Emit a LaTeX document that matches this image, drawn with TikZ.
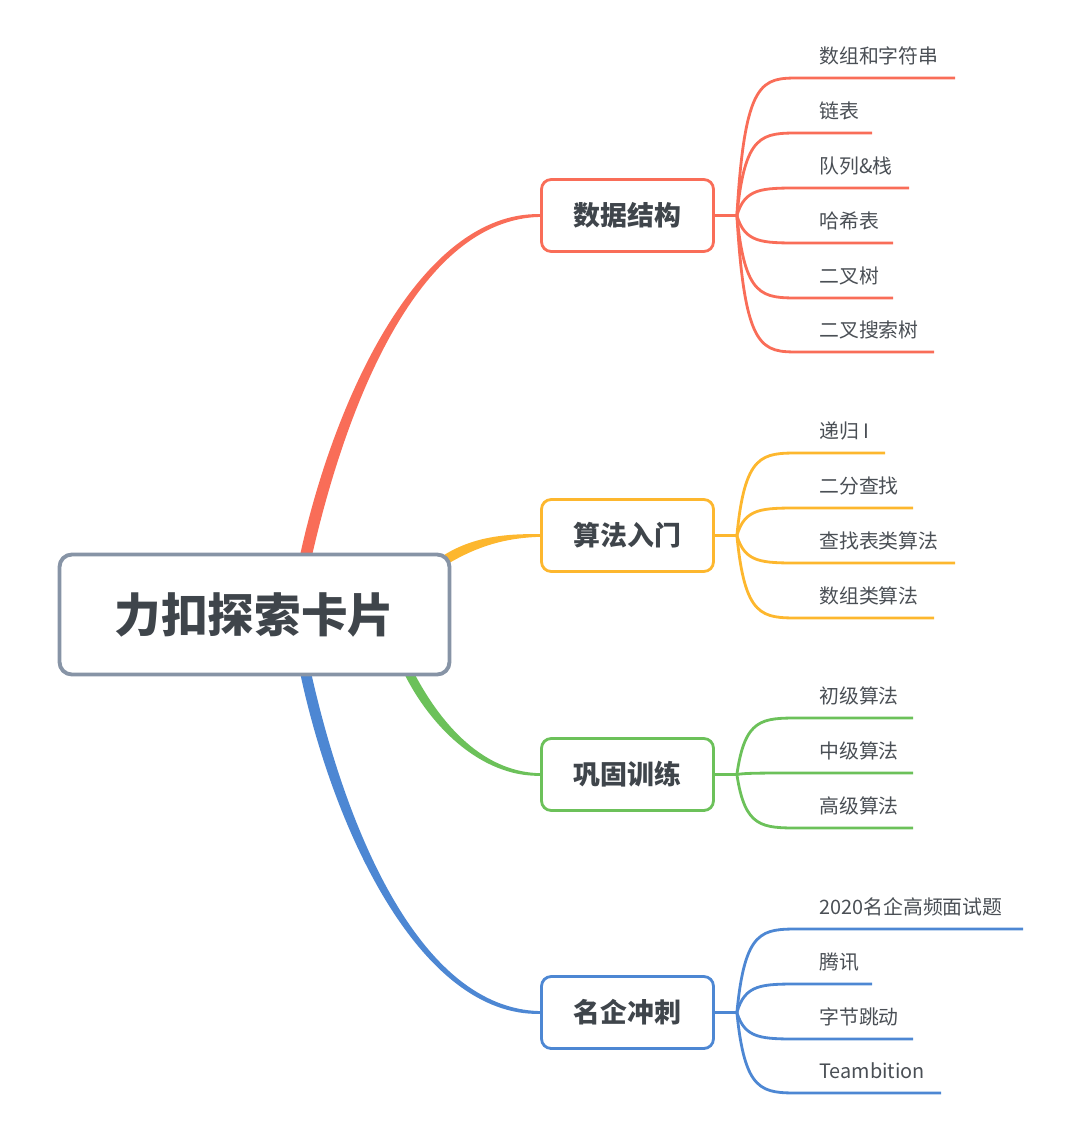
\documentclass[tikz,border=0pt]{standalone}
\usepackage{fontspec}
\setmainfont{Noto Sans CJK SC}
\usetikzlibrary{calc}

\definecolor{redc}{HTML}{F96D58}
\definecolor{yellowc}{HTML}{FDB72E}
\definecolor{greenc}{HTML}{6CC15A}
\definecolor{bluec}{HTML}{4D87D3}
\definecolor{rootgray}{HTML}{8794A6}
\definecolor{textgray}{HTML}{3F454B}
\definecolor{leafgray}{HTML}{4A4F55}

\tikzset {
  root style/.style = {
    draw=rootgray,
    line width=2.2pt,
    rounded corners=7pt,
    fill=white,
    minimum width=7.8cm,
    minimum height=2.4cm,
    text=textgray,
    font=\bfseries\fontsize{26.5}{32}\selectfont
  },
  topic style/.style = {
    draw=#1,
    line width=1.6pt,
    rounded corners=5.5pt,
    fill=white,
    minimum width=3.44cm,
    minimum height=1.44cm,
    text=textgray,
    font=\bfseries\fontsize{15.3}{18}\selectfont
  },
  leaf style/.style = {
    anchor=west,
    inner sep=0pt,
    text=leafgray,
    font=\fontsize{11.3}{13}\selectfont
  },
  leaf line/.style = {
    draw=#1,
    line width=1.6pt
  }
}

\begin{document}
\begin{tikzpicture}[x=0.02cm, y=-0.02cm]

\useasboundingbox (0,0) rectangle (1080,1135);

% --- Topics ---
\node[topic style=redc]    (tds) at (627.5,215.5)  {数据结构};
\node[topic style=yellowc] (tsf) at (627.5,535.5)  {算法入门};
\node[topic style=greenc]  (tgg) at (627.5,774.5)  {巩固训练};
\node[topic style=bluec]   (tmq) at (627.5,1012.5) {名企冲刺};

% --- Main branches (tapered) ---
\fill[redc] (299,560) .. controls (333,400) and (420,211.5) .. ($(tds.west)+(0,-1.4)$)
  -- ($(tds.west)+(0,1.4)$) .. controls (420,219.5) and (347,400) .. (311,560) -- cycle;
\fill[yellowc] (442.5,556) .. controls (472,537) and (505,533.5) .. ($(tsf.west)+(0,-1.3)$)
  -- ($(tsf.west)+(0,1.3)$) .. controls (505,538) and (478,546) .. (447.5,564) -- cycle;
\fill[greenc] (409,663) .. controls (436.5,719.5) and (480,772) .. ($(tgg.west)+(0,-1.3)$)
  -- ($(tgg.west)+(0,1.3)$) .. controls (480,777) and (427.5,724.5) .. (401,667) -- cycle;
\fill[bluec] (310.5,670) .. controls (346,830) and (420,1008.5) .. ($(tmq.west)+(0,-1.4)$)
  -- ($(tmq.west)+(0,1.4)$) .. controls (420,1016.5) and (333,830) .. (299.5,670) -- cycle;

% --- Root ---
\node[root style] (root) at (254.5,614.5) {力扣探索卡片};

% --- Fan points ---
\coordinate (fanR) at ($(tds.east)+(22,0)$);
\coordinate (fanY) at ($(tsf.east)+(22,0)$);
\coordinate (fanG) at ($(tgg.east)+(22,0)$);
\coordinate (fanB) at ($(tmq.east)+(22,0)$);
\draw[leaf line=redc]    (tds.east) -- (fanR);
\draw[leaf line=yellowc] (tsf.east) -- (fanY);
\draw[leaf line=greenc]  (tgg.east) -- (fanG);
\draw[leaf line=bluec]   (tmq.east) -- (fanB);

% --- Leaves: data structures ---
\foreach \i/\t/\y/\e in {1/数组和字符串/78/955, 2/链表/133/872, 3/队列\&栈/188/909,
    4/哈希表/243/893, 5/二叉树/298/893, 6/二叉搜索树/352/934} {
  \node[leaf style] (r\i) at (819,\y-22) {\t};
  \coordinate (rs\i) at (800,\y);
  \coordinate (re\i) at (\e,\y);
  \draw[leaf line=redc] (fanR) .. controls ($(fanR |- rs\i)+(8,0)$) and ($(fanR |- rs\i)+(25,0)$) .. (rs\i) -- (re\i);
}

% --- Leaves: algorithms ---
\foreach \i/\t/\y/\e in {1/递归 I/453/885, 2/二分查找/508/913, 3/查找表类算法/563/955,
    4/数组类算法/618/934} {
  \node[leaf style] (y\i) at (819,\y-22) {\t};
  \coordinate (ys\i) at (800,\y);
  \coordinate (ye\i) at (\e,\y);
  \draw[leaf line=yellowc] (fanY) .. controls ($(fanY |- ys\i)+(8,0)$) and ($(fanY |- ys\i)+(25,0)$) .. (ys\i) -- (ye\i);
}

% --- Leaves: practice ---
\foreach \i/\t/\y/\e in {1/初级算法/718/913, 2/中级算法/773/913, 3/高级算法/828/913} {
  \node[leaf style] (g\i) at (819,\y-22) {\t};
  \coordinate (gs\i) at (800,\y);
  \coordinate (ge\i) at (\e,\y);
  \draw[leaf line=greenc] (fanG) .. controls ($(fanG |- gs\i)+(8,0)$) and ($(fanG |- gs\i)+(25,0)$) .. (gs\i) -- (ge\i);
}

% --- Leaves: companies ---
\foreach \i/\t/\y/\e in {1/2020名企高频面试题/929/1023, 2/腾讯/984/872, 3/字节跳动/1039/913,
    4/Teambition/1093/941} {
  \node[leaf style] (b\i) at (819,\y-22) {\t};
  \coordinate (bs\i) at (800,\y);
  \coordinate (be\i) at (\e,\y);
  \draw[leaf line=bluec] (fanB) .. controls ($(fanB |- bs\i)+(8,0)$) and ($(fanB |- bs\i)+(25,0)$) .. (bs\i) -- (be\i);
}

\end{tikzpicture}
\end{document}
